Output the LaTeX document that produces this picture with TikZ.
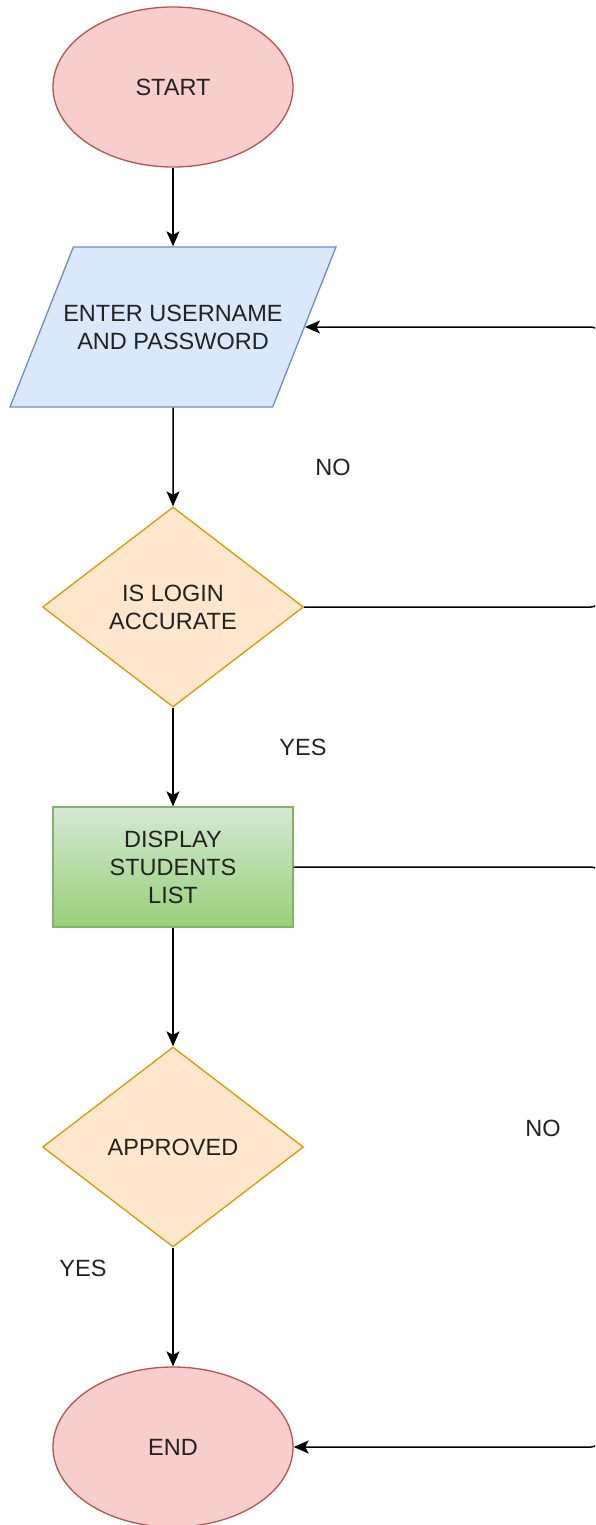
\documentclass[tikz,border=0pt]{standalone}
\usepackage{fontspec}
\setmainfont{Liberation Sans}
\usetikzlibrary{positioning,shapes.geometric,arrows.meta}
\definecolor{redfill}{HTML}{F8CECC}
\definecolor{redline}{HTML}{B85450}
\definecolor{bluefill}{HTML}{DAE8FC}
\definecolor{blueline}{HTML}{6C8EBF}
\definecolor{orfill}{HTML}{FFE6CC}
\definecolor{orline}{HTML}{D79B00}
\definecolor{grtop}{HTML}{D5E8D4}
\definecolor{grbot}{HTML}{97D077}
\definecolor{grline}{HTML}{82B366}
\definecolor{txt}{HTML}{222222}
\begin{document}
\begin{tikzpicture}[x=1pt,y=1pt,
	font=\fontsize{23.5}{28}\selectfont, text=txt,
	term/.style={ellipse,draw=redline,fill=redfill,line width=1.3pt,minimum width=240pt,minimum height=160pt,inner sep=0pt},
	io/.style={trapezium,trapezium left angle=68,trapezium right angle=112,trapezium stretches body,draw=blueline,fill=bluefill,line width=1.3pt,minimum height=160pt,inner xsep=-10pt,inner ysep=56pt,align=center},
	dec/.style={diamond,draw=orline,fill=orfill,line width=1.3pt,minimum width=261pt,minimum height=200pt,inner sep=0pt,align=center},
	proc/.style={rectangle,draw=grline,top color=grtop,bottom color=grbot,line width=1.3pt,minimum width=240pt,minimum height=120pt,inner sep=0pt,align=center},
	flow/.style={line width=1.5pt,-{Stealth[length=15pt,width=13pt,inset=3.5pt]}},
	lbl/.style={inner sep=0pt}]
		\clip (0,0) rectangle (595,-1525);
		\node[term] (start) at (173,-87) {START};
		\node[io] (enter) at (173,-327) {ENTER USERNAME\\AND PASSWORD};
		\node[dec] (login) at (173,-607) {IS LOGIN\\ACCURATE};
		\node[proc] (list) at (173,-867) {DISPLAY\\STUDENTS\\LIST};
		\node[dec] (appr) at (173,-1147) {APPROVED};
		\node[term] (end) at (173,-1447) {END};

		\node[lbl] (no1) at (333,-467) {NO};
		\node[lbl] (yes1) at (303,-747) {YES};
		\node[lbl] (no2) at (543,-1128) {NO};
		\node[lbl] (yes2) at (83,-1268) {YES};

		\coordinate (rx) at (600,0);

		\draw[flow] (start) -- (enter);
		\draw[flow] (enter) -- (login);
		\draw[flow] (login) -- (list);
		\draw[flow] (list) -- (appr);
		\draw[flow] (appr) -- (end);
		\draw[flow,rounded corners=9pt] (login.east) -- (login.east -| rx) -- (enter.east -| rx) -- (enter.east);
		\draw[flow,rounded corners=9pt] (list.east) -- (list.east -| rx) -- (end.east -| rx) -- (end.east);
	\end{tikzpicture}
\end{document}
